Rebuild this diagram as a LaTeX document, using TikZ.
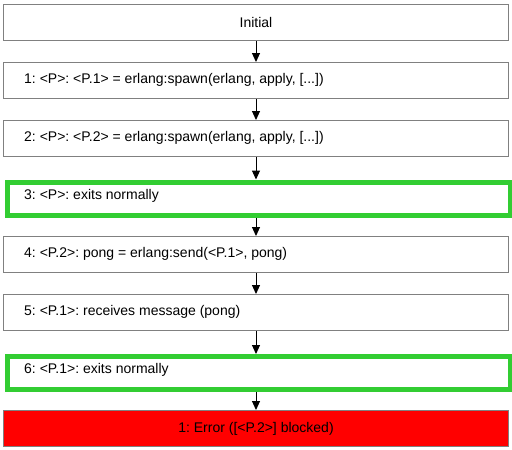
\documentclass[tikz,border=0pt]{standalone}
\usepackage{fontspec}
\setmainfont{Liberation Sans}
\frenchspacing
\usetikzlibrary{arrows.meta}
\definecolor{edgegray}{RGB}{128,128,128}
\definecolor{okgreen}{RGB}{50,205,50}
\begin{document}
\begin{tikzpicture}[x=1pt,y=-1pt,
  label/.style={inner sep=0pt,font=\fontsize{14}{16}\selectfont},
  steptext/.style={label,anchor=west},
  stepbox/.style={draw=edgegray,line width=1pt,fill=white,minimum width=505pt,minimum height=36pt,
    inner sep=0pt,anchor=north west},
  okbox/.style={stepbox,draw=okgreen,line width=5pt,minimum width=503pt,minimum height=33pt},
  errbox/.style={stepbox,fill=red},
  flow/.style={-{Triangle[length=9pt,width=8pt]},line width=1pt,black}]
\useasboundingbox (0,0) rectangle (512,450);
\fill[white] (0,0) rectangle (512,450);
% step boxes, 58pt apart
\node[stepbox] (s0) at (3,4) {};
\node[label] at (s0.center) {Initial};
\node[stepbox] (s1) at (3,62) {};
\node[steptext] at (24,80) {1: <P>: <P.1> = erlang:spawn(erlang, apply, [...])};
\node[stepbox] (s2) at (3,120) {};
\node[steptext] at (24,138) {2: <P>: <P.2> = erlang:spawn(erlang, apply, [...])};
\node[okbox] (s3) at (4.5,179.5) {};
\node[steptext] at (24,196) {3: <P>: exits normally};
\node[stepbox] (s4) at (3,236) {};
\node[steptext] at (24,254) {4: <P.2>: pong = erlang:send(<P.1>, pong)};
\node[stepbox] (s5) at (3,294) {};
\node[steptext] at (24,312) {5: <P.1>: receives message (pong)};
\node[okbox] (s6) at (4.5,354) {};
\node[steptext] at (24,370) {6: <P.1>: exits normally};
\node[errbox] (s7) at (3,410) {};
\node[label] at (s7.center) {1: Error ([<P.2>] blocked)};
% vertical connectors between consecutive steps
\foreach \a/\b in {s0/s1,s1/s2,s2/s3,s3/s4,s4/s5,s5/s6,s6/s7}
  \draw[flow] (s0.south |- \a.south) -- (s0.south |- \b.north);
\end{tikzpicture}
\end{document}
